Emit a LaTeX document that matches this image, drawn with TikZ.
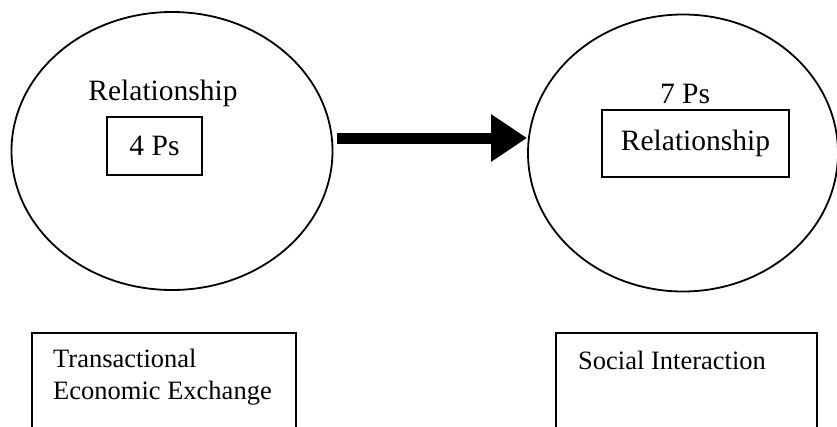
\documentclass[tikz,border=0pt]{standalone}
\usepackage{fontspec}
\setmainfont{Liberation Serif}
\usetikzlibrary{arrows.meta, positioning, shapes.geometric, calc}

\begin{document}
\begin{tikzpicture}[
    x=1pt, y=-1pt,
    circ/.style={ellipse, draw, line width=1.8pt, inner sep=0pt},
    lbl/.style={inner sep=0pt, font=\fontsize{29.5}{33}\selectfont},
    inbox/.style={rectangle, draw, line width=1.8pt, inner sep=0pt, font=\fontsize{29.5}{33}\selectfont},
    outbox/.style={rectangle, draw, line width=1.8pt, anchor=north west, minimum height=120pt},
    boxtxt/.style={anchor=north west, align=left, inner sep=0pt, font=\fontsize{26.5}{32}\selectfont},
    bigarr/.style={-{Triangle[length=36pt, width=45pt]}, line width=11pt},
]
    \useasboundingbox (0,0) rectangle (837,426);

    \node[circ, minimum width=321pt, minimum height=278pt] (leftcirc) at (172,151) {};
    \node[circ, minimum width=310pt, minimum height=277pt] (rightcirc) at (683,153) {};

    \node[lbl] (leftlbl) at (163,93) {Relationship};
    \node[inbox, minimum width=95pt, minimum height=58pt] (fourps) at (154.5,146) {4 Ps};
    \node[lbl] (rightlbl) at (685,94) {7 Ps};
    \node[inbox, minimum width=187pt, minimum height=67pt] (rightrel) at (695.5,143.5) {Relationship};

    \path (leftcirc.east) ++(4,-13) coordinate (arrstart);
    \draw[bigarr] (arrstart) -- (arrstart -| rightcirc.west);

    \node[outbox, minimum width=264pt] (leftbox) at (31,332) {};
    \node[boxtxt] (lefttxt) at ([shift={(22,17)}]leftbox.north west) {Transactional\\Economic Exchange};
    \node[outbox, minimum width=261pt] (rightbox) at (555,332) {};
    \node[boxtxt] (righttxt) at ([shift={(23,19)}]rightbox.north west) {Social Interaction};
\end{tikzpicture}
\end{document}
